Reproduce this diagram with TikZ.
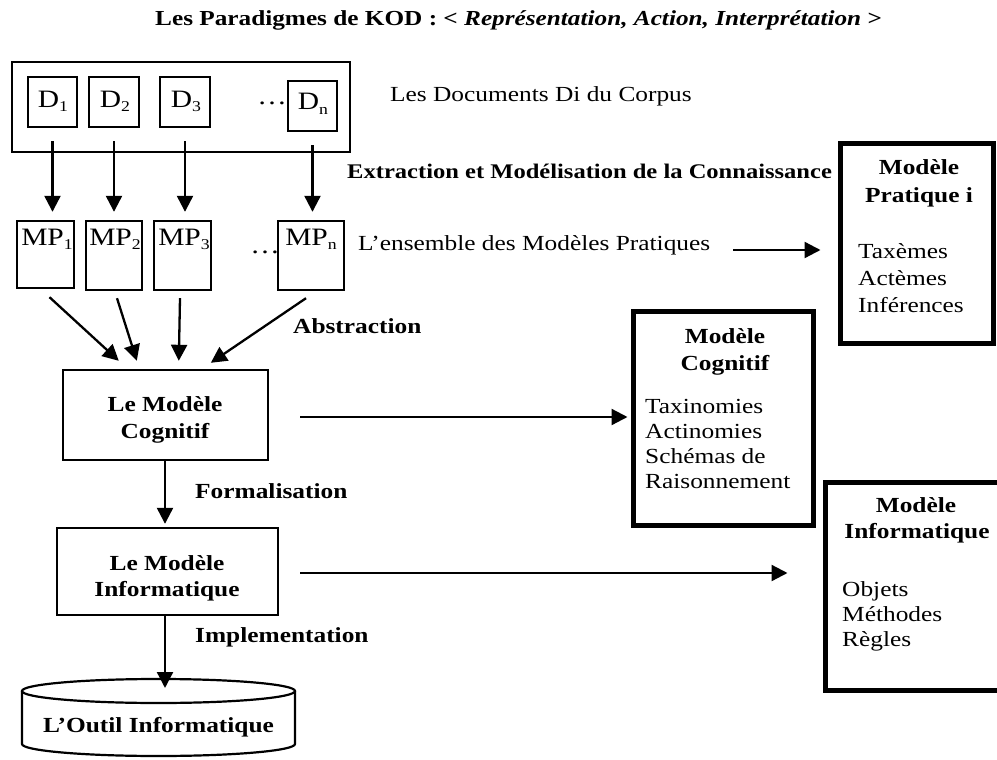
\documentclass[tikz,border=0pt]{standalone}
\usepackage{fontspec}
\setmainfont{Liberation Serif}[FakeStretch=1.18]
\usetikzlibrary{arrows.meta,calc}
\newcommand{\mysub}[1]{\raisebox{-4.5pt}{\fontsize{15}{15}\selectfont #1}}
\tikzset{
  thinbox/.style={draw, line width=2.4pt, inner sep=0pt},
  thickbox/.style={draw, line width=5pt, inner sep=0pt},
  arr/.style={line width=2.3pt, -{Triangle[length=16pt,width=16pt]}},
  txt/.style={inner sep=0pt, font=\fontsize{21.5}{26}\selectfont},
  btxt/.style={inner sep=0pt, font=\fontsize{21.5}{26}\selectfont\bfseries},
  lbl/.style={inner sep=0pt, font=\fontsize{25}{30}\selectfont},
  ttl/.style={inner sep=0pt, font=\fontsize{21.4}{24}\selectfont\bfseries},
}
\begin{document}
\begin{tikzpicture}[x=1pt,y=-1pt]
\useasboundingbox (0,0) rectangle (997,760);
\clip (0,0) rectangle (997,760);

% title
\node[ttl, anchor=base west] (title) at (155,26) {Les Paradigmes de KOD : < \textit{Représentation, Action, Interprétation} >};

% corpus
\node[thinbox, minimum width=338pt, minimum height=90pt] (corpus) at (181,107) {};
\node[thinbox, minimum width=49pt, minimum height=50pt] (D1) at (52.5,102) {};
\node[thinbox, minimum width=50pt, minimum height=50pt] (D2) at (114,102) {};
\node[thinbox, minimum width=50pt, minimum height=50pt] (D3) at (185,102) {};
\node[thinbox, minimum width=49pt, minimum height=50pt] (Dn) at (312.5,106) {};
\node[lbl, anchor=base] (D1t) at (53,107) {D\mysub{1}};
\node[lbl, anchor=base] (D2t) at (115,107) {D\mysub{2}};
\node[lbl, anchor=base] (D3t) at (186,107) {D\mysub{3}};
\node[lbl, anchor=base] (Dnt) at (313,110) {D\mysub{n}};
\node[lbl, anchor=base east] (Ddots) at (287,104) {…};
\node[txt, anchor=base west] (corpuslbl) at (390,102) {Les Documents Di du Corpus};

% practical models
\node[thinbox, minimum width=57pt, minimum height=67pt] (MP1) at (45.5,254.5) {};
\node[thinbox, minimum width=56pt, minimum height=69pt] (MP2) at (114,255.5) {};
\node[thinbox, minimum width=57pt, minimum height=69pt] (MP3) at (182.5,255.5) {};
\node[thinbox, minimum width=66pt, minimum height=69pt] (MPn) at (311,255.5) {};
\node[lbl, anchor=base] (MP1t) at (47,245) {MP\mysub{1}};
\node[lbl, anchor=base] (MP2t) at (115,245) {MP\mysub{2}};
\node[lbl, anchor=base] (MP3t) at (184,245) {MP\mysub{3}};
\node[lbl, anchor=base] (MPnt) at (311,245) {MP\mysub{n}};
\node[lbl, anchor=base east] (MPdots) at (280,253) {…};

\node[btxt, font=\fontsize{20.8}{26}\selectfont\bfseries, anchor=base west] (extr) at (347,178) {Extraction et Modélisation de la Connaissance};
\node[txt, anchor=base west] (ens) at (358,250) {L’ensemble des Modèles Pratiques};

% D -> MP arrows
\foreach \d/\m in {D1/MP1, D2/MP2, D3/MP3, Dn/MPn}{
  \draw[arr] ($(\d.south)+(0,13)$) -- ($(\d.south |- \m.north)+(0,-8)$);
}

% cognitive model
\node[thinbox, minimum width=205pt, minimum height=90pt] (Cog) at (165.5,415) {};
\node[btxt, anchor=base] (Cog1) at (165,411) {Le Modèle};
\node[btxt, anchor=base] (Cog2) at (165,438) {Cognitif};
\node[btxt, anchor=base west] (abs) at (293,333) {Abstraction};

\draw[arr] ($(MP1.south)+(4,8)$) -- ($(Cog.north west)+(57,-8)$);
\draw[arr] ($(MP2.south)+(3,7)$) -- ($(Cog.north west)+(75,-8)$);
\draw[arr] ($(MP3.south)+(-2.5,7)$) -- ($(Cog.north west)+(117,-8)$);
\draw[arr] ($(MPn.south)+(-5,7)$) -- ($(Cog.north west)+(149,-6)$);

% computer model
\node[thinbox, minimum width=221pt, minimum height=87pt] (Info) at (167.5,571.5) {};
\node[btxt, anchor=base] (Info1) at (167,570) {Le Modèle};
\node[btxt, anchor=base] (Info2) at (167,596) {Informatique};
\node[btxt, anchor=base west] (form) at (195,498) {Formalisation};
\draw[arr] (Cog.south -| 165,0) -- ($(Info.north -| 165,0)+(0,-3)$);

% tool (cylinder)
\coordinate (cyltop) at (165,688);
\draw[line width=2.2pt] (158.5,691) ellipse [x radius=136.5pt, y radius=12pt];
\draw[line width=2.2pt] (22,691) -- (22,744)
   arc[start angle=180, end angle=360, x radius=136.5pt, y radius=12pt] -- (295,691);
\node[btxt, anchor=base] (tool) at (158.5,732) {L’Outil Informatique};
\node[btxt, anchor=base west] (impl) at (195,642) {Implementation};
\draw[arr] (Info.south -| 165,0) -- (cyltop);

% right boxes
\node[thickbox, minimum width=153pt, minimum height=200pt] (PratR) at (916.5,243) {};
\node[btxt, anchor=base] (PratR1) at (919,175) {Modèle};
\node[btxt, anchor=base] (PratR2) at (919,202) {Pratique i};
\node[txt, anchor=base west] (PratR3) at (858,258) {Taxèmes};
\node[txt, anchor=base west] (PratR4) at (858,285) {Actèmes};
\node[txt, anchor=base west] (PratR5) at (858,312) {Inférences};

\node[thickbox, minimum width=180pt, minimum height=214pt] (CogR) at (723,418) {};
\node[btxt, anchor=base] (CogR1) at (725,343) {Modèle};
\node[btxt, anchor=base] (CogR2) at (725,370) {Cognitif};
\node[txt, anchor=base west] (CogR3) at (645,413) {Taxinomies};
\node[txt, anchor=base west] (CogR4) at (645,438) {Actinomies};
\node[txt, anchor=base west] (CogR5) at (645,463) {Schémas de};
\node[txt, anchor=base west] (CogR6) at (645,488) {Raisonnement};

\node[thickbox, minimum width=180pt, minimum height=208pt] (InfoR) at (915,586) {};
\node[btxt, anchor=base] (InfoR1) at (916,512) {Modèle};
\node[btxt, anchor=base] (InfoR2) at (917,538) {Informatique};
\node[txt, anchor=base west] (InfoR3) at (842,596) {Objets};
\node[txt, anchor=base west] (InfoR4) at (842,621) {Méthodes};
\node[txt, anchor=base west] (InfoR5) at (842,646) {Règles};

% horizontal arrows
\coordinate (a1) at (733,250);
\draw[arr, shorten >=17pt] (a1) -- (PratR.west |- a1);
\coordinate (a2) at ($(Cog.east)+(31,2)$);
\draw[arr, shorten >=3pt] (a2) -- (CogR.west |- a2);
\coordinate (a3) at ($(Info.east)+(21,1.5)$);
\draw[arr, shorten >=35pt] (a3) -- (InfoR.west |- a3);
\end{tikzpicture}
\end{document}
